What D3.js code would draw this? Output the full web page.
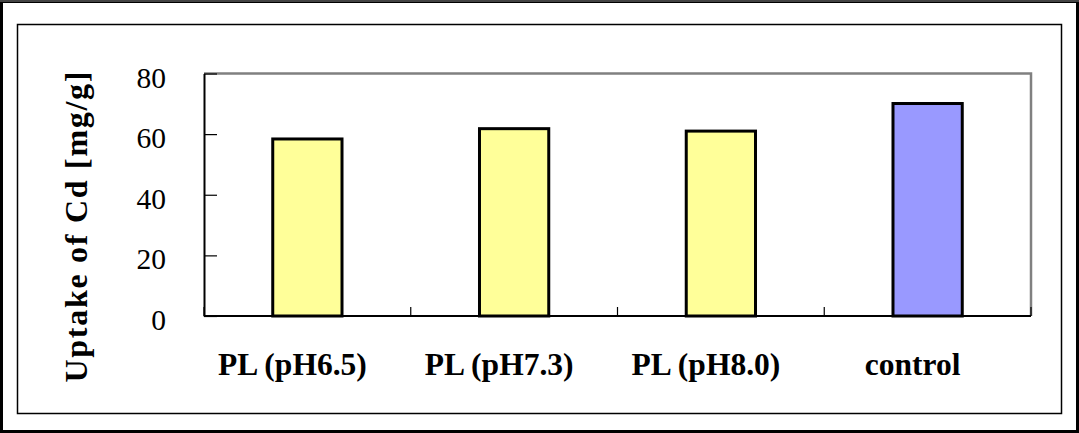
<!DOCTYPE html>
<html>
<head>
<meta charset="utf-8">
<script src="https://cdn.jsdelivr.net/npm/d3@7"></script>
<style>
  html, body { margin: 0; padding: 0; background: #fff; }
  svg { display: block; }
</style>
</head>
<body>
<svg id="chart" width="1079" height="433"></svg>
<script>
// ---- data ----
const categories = ["PL (pH6.5)", "PL (pH7.3)", "PL (pH8.0)", "control"];
const uptake = [58.4, 61.8, 61.0, 70.1];
const barColors = ["#FFFF99", "#FFFF99", "#FFFF99", "#9999FF"];
const yTicks = [0, 20, 40, 60, 80];
const yTitle = "Uptake of Cd [mg/g]";

// ---- layout ----
const W = 1079, H = 433;
const plot = { left: 204, right: 1031, top: 73.5, bottom: 316 };
const serif = "'Liberation Serif', 'Times New Roman', serif";
const svg = d3.select("#chart");

// outer frame
svg.append("rect").attr("x", 1.5).attr("y", 1.5).attr("width", W - 3).attr("height", H - 3)
  .attr("fill", "#fff").attr("stroke", "#000").attr("stroke-width", 3);
svg.append("line").attr("x1", 0).attr("x2", W).attr("y1", 1).attr("y2", 1)
  .attr("stroke", "#444").attr("stroke-width", 2);
// inner frame
svg.append("rect").attr("x", 17.5).attr("y", 24.5).attr("width", 1044).attr("height", 389)
  .attr("fill", "none").attr("stroke", "#000").attr("stroke-width", 1.5);

const x = d3.scaleBand().domain(categories).range([plot.left, plot.right]).padding(0);
const y = d3.scaleLinear().domain([0, 80]).range([plot.bottom, plot.top]);

// gray top/right plot border
svg.append("path")
  .attr("d", `M${plot.left},${plot.top}H${plot.right}V${plot.bottom}`)
  .attr("fill", "none").attr("stroke", "#808080").attr("stroke-width", 2.5);

// bars
const bw = x.bandwidth() * 0.335;
svg.append("g").selectAll("rect").data(categories).join("rect")
  .attr("x", d => x(d) + x.bandwidth() / 2 - bw / 2)
  .attr("y", (d, i) => y(uptake[i]))
  .attr("width", bw)
  .attr("height", (d, i) => y(0) - y(uptake[i]))
  .attr("fill", (d, i) => barColors[i])
  .attr("stroke", "#000").attr("stroke-width", 3);

// y axis
const yAxis = d3.axisLeft(y).tickValues(yTicks).tickSizeInner(-13).tickSizeOuter(0).tickPadding(38);
const gy = svg.append("g").attr("transform", `translate(${plot.left},0)`).call(yAxis);
gy.select(".domain").attr("stroke", "#000").attr("stroke-width", 2);
gy.selectAll(".tick line").attr("stroke", "#000").attr("stroke-width", 1.2);
gy.selectAll(".tick text")
  .attr("dy", null).attr("y", 13.5)
  .attr("font-family", serif)
  .attr("font-size", 29.5).attr("fill", "#000");

// x axis baseline
svg.append("line").attr("x1", plot.left).attr("x2", plot.right)
  .attr("y1", plot.bottom).attr("y2", plot.bottom)
  .attr("stroke", "#000").attr("stroke-width", 2);

// x separator ticks (band boundaries)
const bounds = categories.map(c => x(c)).concat([x.range()[1]]);
svg.append("g").selectAll("line").data(bounds).join("line")
  .attr("x1", d => d).attr("x2", d => d)
  .attr("y1", plot.bottom).attr("y2", plot.bottom - 9)
  .attr("stroke", "#000").attr("stroke-width", 1.2);

// x labels
svg.append("g").selectAll("text").data(categories).join("text")
  .attr("x", d => x(d) + x.bandwidth() / 2 - 15)
  .attr("y", 375)
  .attr("text-anchor", "middle")
  .attr("font-family", serif)
  .attr("font-weight", "bold")
  .attr("font-size", 31.5)
  .attr("fill", "#000")
  .text(d => d);

// y title
svg.append("text")
  .attr("transform", "translate(87,227) rotate(-90)")
  .attr("text-anchor", "middle")
  .attr("font-family", serif)
  .attr("font-weight", "bold")
  .attr("font-size", 32)
  .attr("textLength", 311)
  .attr("lengthAdjust", "spacing")
  .attr("fill", "#000")
  .text(yTitle);
</script>
</body>
</html>
